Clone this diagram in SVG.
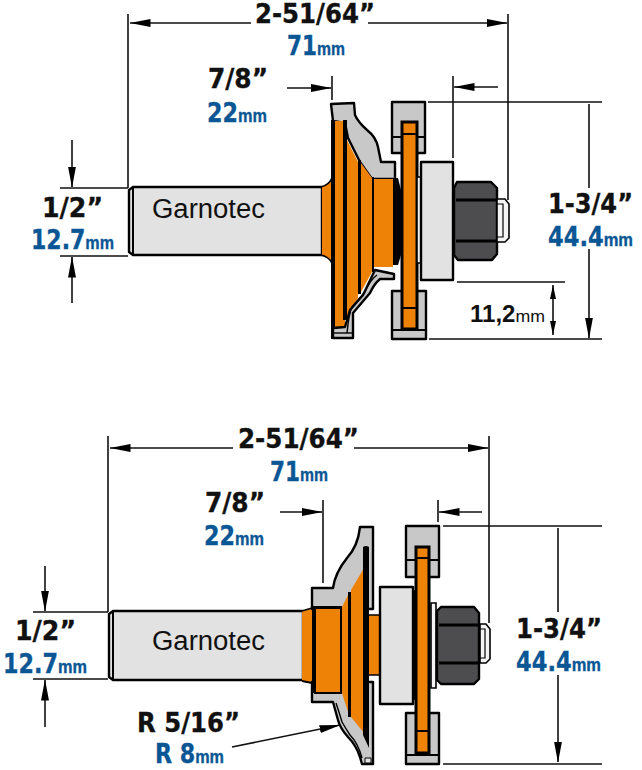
<svg xmlns="http://www.w3.org/2000/svg" width="642" height="770" viewBox="0 0 642 770">
<style>
.k,.b{font-family:"DejaVu Sans",Verdana,sans-serif;font-weight:700;font-size:26px}
.k{fill:#111;stroke:#111;stroke-width:.35}
.b{fill:#0b5694;stroke:#0b5694;stroke-width:.35}
.b tspan{font-family:"Liberation Sans",Arial,sans-serif;font-size:19px}
.g{font-family:"Liberation Sans",Arial,sans-serif;font-size:27px;fill:#111}
.e{font-family:"Liberation Sans",Arial,sans-serif;font-weight:700;font-size:23px;fill:#111}
.e tspan{font-size:17px;font-weight:400}
.d{fill:none;stroke:#111;stroke-width:1.6}
.o{fill:#ee8206;stroke:none}
.s{fill:#c8c8c8;stroke:#000;stroke-width:2.4;stroke-linejoin:round}
.l{fill:#e2e2e2;stroke:#000;stroke-width:2.4;stroke-linejoin:round}
.n{fill:#4d4d4f;stroke:#000;stroke-width:2.4;stroke-linejoin:round}
.t{fill:none;stroke:#000;stroke-width:2}
.w{fill:#f4f4f4;stroke:#000;stroke-width:1.6}
.h{fill:#000;stroke:none}
.r{fill:#ee8206;stroke:#000;stroke-width:3}
</style>
<defs>
<marker id="a" markerWidth="21" markerHeight="8" refX="20.5" refY="4" orient="auto-start-reverse" markerUnits="userSpaceOnUse"><path d="M0 0L21 4L0 8Z" fill="#000"/></marker>
<marker id="c" markerWidth="14" markerHeight="6" refX="14" refY="3" orient="auto-start-reverse" markerUnits="userSpaceOnUse"><path d="M0 0L14 3L0 6Z" fill="#000"/></marker>
</defs>

<g id="connectors">
<path class="d" d="M128 188V14M508 200V14"/>
<path class="d" d="M251 23H130" marker-end="url(#a)"/>
<path class="d" d="M368 23H507" marker-end="url(#a)"/>
<path class="d" d="M332 76V100"/>
<path class="d" d="M287 88H331" marker-end="url(#a)"/>
<path class="d" d="M453 76V158"/>
<path class="d" d="M498 87H454" marker-end="url(#a)"/>
<path class="d" d="M60 188H128M60 256H128"/>
<path class="d" d="M72 140V187" marker-end="url(#a)"/>
<path class="d" d="M72 303V257" marker-end="url(#a)"/>
<path class="d" d="M428 102H602M429 339H602"/>
<path class="d" d="M589 104V188"/>
<path class="d" d="M589 249V338" marker-end="url(#a)"/>
<path class="d" d="M457 282H565"/>
<path class="d" d="M553 310V285" marker-end="url(#c)"/>
<path class="d" d="M553 310V335" marker-end="url(#c)"/>

<path class="d" d="M108 612V436M489 623V436"/>
<path class="d" d="M233 448H110" marker-end="url(#a)"/>
<path class="d" d="M354 448H488" marker-end="url(#a)"/>
<path class="d" d="M323 500V583"/>
<path class="d" d="M280 512H322" marker-end="url(#a)"/>
<path class="d" d="M438 500V522"/>
<path class="d" d="M482 512H439" marker-end="url(#a)"/>
<path class="d" d="M33 612H108M33 679H108"/>
<path class="d" d="M45 566V611" marker-end="url(#a)"/>
<path class="d" d="M45 727V680" marker-end="url(#a)"/>
<path class="d" d="M443 526H602M443 764H602"/>
<path class="d" d="M558 528V612"/>
<path class="d" d="M558 675V762" marker-end="url(#a)"/>
<path class="d" d="M232 747L340 725" marker-end="url(#a)"/>
</g>

<g id="cutter-top">
<path class="l" d="M133 187H322V255H133L129 252V190Z"/>
<path class="t" d="M133 188V255"/>
<path class="o" d="M322 186Q329 185 332 178V262Q329 257 322 255Z"/>
<path class="t" d="M321 187Q329 185 332 178M321 255Q329 257 332 263" style="stroke-width:1.8"/>
<path class="s" d="M331 104L354 103L355 115Q358 122 367 130Q376 137 378 147L381 162H395V179H372L360 162L348 138L345 123L333 121Z"/>
<path class="o" d="M334 121H345V327H334Z"/>
<path class="h" d="M331 120H335V339H331ZM343 120H347L347 320H343Z"/>
<path class="o" d="M347 140L358 162V298L347 316Z"/>
<path class="h" d="M358 160H361V294H358Z"/>
<path class="o" d="M361 163L372 178V272L361 292Z"/>
<path class="h" d="M372 177H374V272H372Z"/>
<path class="o" d="M374 179H393V267H374Z"/>
<path class="h" d="M393 178H398L401 190V255L398 265H393Z"/>
<path class="s" d="M375 270L394 274V279H380Q374 284 370 293L353 313Q353 322 353 338H333V328L345 327L350 310L363 295Z"/>
<path class="t" d="M377 275Q370 280 365 292L352 307Q349 313 347 333" style="stroke-width:1.4"/>
<path class="t" d="M333 333H352" style="stroke-width:1.4"/>
<text class="g" x="152" y="218" textLength="113" lengthAdjust="spacingAndGlyphs">Garnotec</text>
</g>

<g id="bearing-top">
<path class="s" d="M392 102H425V153H392Z"/>
<path class="s" d="M392 291H426V339H392Z"/>
<path class="t" d="M392 137H402M416 137H425M392 330H426"/>
<path class="r" d="M402 122H417V329H402Z"/>
<path class="t" d="M402 134H417M402 308H417"/>
<path class="w" d="M417 177H421V263H417Z"/>
<path class="l" d="M421 162H453V280H421Z"/>
<path class="n" d="M457 182H491L497 188V254L492 260H458L454 255V188Z"/>
<path class="t" d="M456 200H496M456 241H496" style="stroke-width:3"/>
<path class="w" d="M497 199H505L509 204V238L505 242H497Z"/>
<path class="t" d="M497 204H503V237H497" style="stroke-width:1.2"/>
</g>

<g id="cutter-bottom">
<path class="l" d="M113 611H303V680H113L109 677V614Z"/>
<path class="t" d="M113 612V680"/>
<path class="o" d="M302 611L312 608V683L302 681Z"/>
<path class="t" d="M302 611L312 608M302 681L312 683" style="stroke-width:1.8"/>
<path class="s" d="M312 588H333Q335 573 347 558Q358 546 360 527H373V609H312Z"/>
<path class="s" d="M312 682H373V764H362L360 757Q356 745 348 737Q340 728 338 720L333 702H312Z"/>
<path class="t" d="M336 703Q340 715 342 722Q346 729 350 735Q358 743 362 758" style="stroke-width:1.4"/>
<path class="o" d="M316 608H341V693H316Z"/>
<path class="h" d="M312 607H316V693H312ZM314 692H341V694H314ZM313 606H342V609H313ZM340 607H342V694H340Z"/>
<path class="o" d="M342 607L348 595V712L342 693Z"/>
<path class="h" d="M348 592H351V717H348Z"/>
<path class="o" d="M351 590L364 568V733L351 717Z"/>
<path class="h" d="M363 547Q366 545 369 547V748L363 735Z"/>
<path class="l" d="M365 758H371V763H365Z" style="stroke-width:1"/>
<path class="o" d="M369 615H380V675H369Z"/>
<path class="t" d="M369 615H380M369 675H380" style="stroke-width:1.5"/>
<text class="g" x="152" y="650" textLength="113" lengthAdjust="spacingAndGlyphs">Garnotec</text>
</g>

<g id="bearing-bottom">
<path class="s" d="M406 526H439V577H406Z"/>
<path class="s" d="M406 713H439V764H406Z"/>
<path class="t" d="M406 560H416M429 560H439M406 755H439"/>
<path class="r" d="M416 547H429V753H416Z"/>
<path class="t" d="M416 558H429M416 731H429"/>
<path class="l" d="M380 587H413V704H380Z"/>
<path class="h" d="M413 590H416V700H413Z"/>
<path class="w" d="M431 603H436V688H431Z"/>
<path class="n" d="M441 607H474L479 613V679L474 684H441L437 680V611Z"/>
<path class="t" d="M439 625H478M439 663H478" style="stroke-width:3"/>
<path class="w" d="M480 624H486L490 629V659L486 663H480Z"/>
<path class="t" d="M480 629H485V658H480" style="stroke-width:1.2"/>
</g>

<g id="labels">
<text class="k" x="255" y="23" textLength="120" lengthAdjust="spacingAndGlyphs">2-51/64”</text>
<text class="b" x="287" y="55" textLength="58" lengthAdjust="spacingAndGlyphs">71<tspan>mm</tspan></text>
<text class="k" x="208" y="88" textLength="60" lengthAdjust="spacingAndGlyphs">7/8”</text>
<text class="b" x="207" y="122" textLength="60" lengthAdjust="spacingAndGlyphs">22<tspan>mm</tspan></text>
<text class="k" x="42" y="217" textLength="61" lengthAdjust="spacingAndGlyphs">1/2”</text>
<text class="b" x="31" y="249" textLength="83" lengthAdjust="spacingAndGlyphs">12.7<tspan>mm</tspan></text>
<text class="k" x="548" y="213" textLength="85" lengthAdjust="spacingAndGlyphs">1-3/4”</text>
<text class="b" x="548" y="246" textLength="85" lengthAdjust="spacingAndGlyphs">44.4<tspan>mm</tspan></text>
<text class="e" x="470" y="322" textLength="75" lengthAdjust="spacingAndGlyphs">11,2<tspan>mm</tspan></text>

<text class="k" x="238" y="448" textLength="121" lengthAdjust="spacingAndGlyphs">2-51/64”</text>
<text class="b" x="270" y="481" textLength="58" lengthAdjust="spacingAndGlyphs">71<tspan>mm</tspan></text>
<text class="k" x="205" y="512" textLength="60" lengthAdjust="spacingAndGlyphs">7/8”</text>
<text class="b" x="204" y="545" textLength="60" lengthAdjust="spacingAndGlyphs">22<tspan>mm</tspan></text>
<text class="k" x="15" y="640" textLength="61" lengthAdjust="spacingAndGlyphs">1/2”</text>
<text class="b" x="3" y="673" textLength="84" lengthAdjust="spacingAndGlyphs">12.7<tspan>mm</tspan></text>
<text class="k" x="516" y="638" textLength="86" lengthAdjust="spacingAndGlyphs">1-3/4”</text>
<text class="b" x="516" y="671" textLength="85" lengthAdjust="spacingAndGlyphs">44.4<tspan>mm</tspan></text>
<text class="k" x="137" y="732" textLength="103" lengthAdjust="spacingAndGlyphs">R 5/16”</text>
<text class="b" x="155" y="763" textLength="69" lengthAdjust="spacingAndGlyphs">R 8<tspan>mm</tspan></text>
</g>
</svg>
